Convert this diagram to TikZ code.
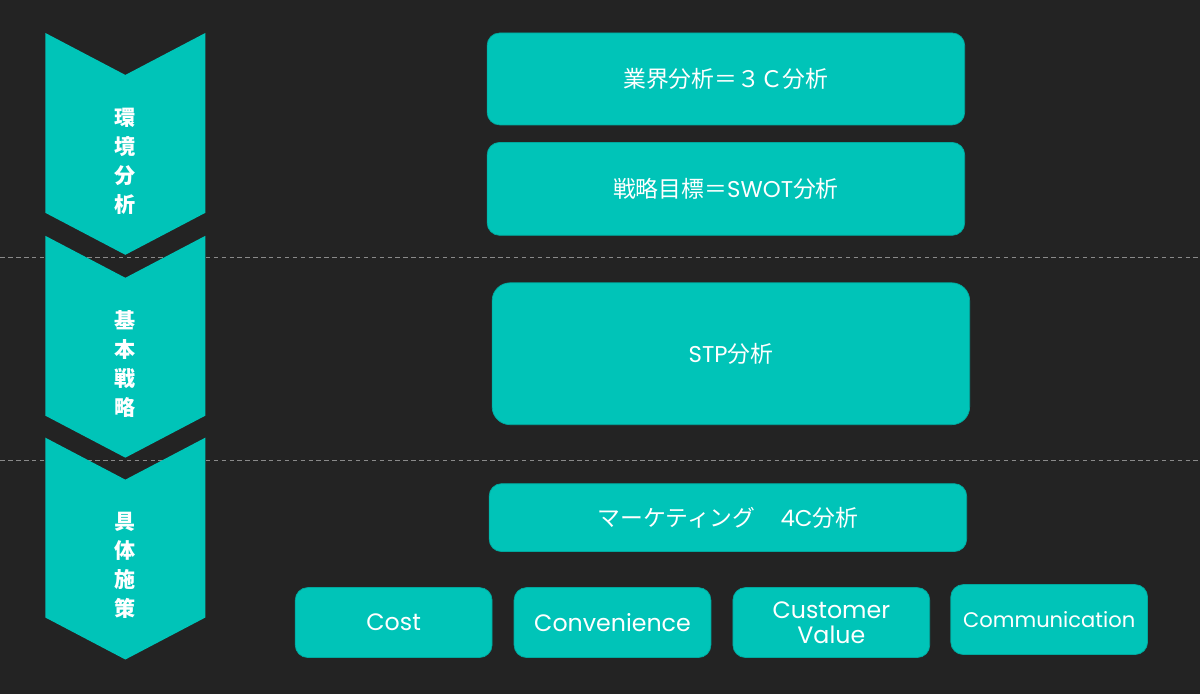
\documentclass[tikz,border=0pt]{standalone}
\usepackage{fontspec}
\setmainfont{Poppins}
\newfontfamily\jp{Noto Sans CJK JP}
\definecolor{bgdark}{HTML}{232323}
\definecolor{tealbox}{HTML}{00C4B8}
\definecolor{tealedge}{HTML}{00A89E}
\definecolor{dashgray}{HTML}{8A8A8A}

\begin{document}
\begin{tikzpicture}[x=0.02cm, y=-0.02cm]
  \tikzset{
    chevron/.style={fill=tealbox},
    stage/.style={text=white, font=\jp\bfseries\fontsize{12}{16.5}\selectfont, align=center},
    box/.style={fill=tealbox, draw=tealedge, line width=0.4pt, rounded corners=0.25cm,
      text=white, inner sep=0pt, align=center, minimum width=9.56cm},
    small/.style={box, minimum width=3.94cm, minimum height=1.4cm,
      font=\fontsize{13.5}{16.5}\selectfont},
    jplabel/.style={font=\fontsize{13}{16}\selectfont},
    sep/.style={draw=dashgray, line width=0.5pt, dash pattern=on 2.5pt off 2pt}
  }
  \fill[bgdark] (0,0) rectangle (1200,694);

  \coordinate (sepAl) at (0,258);
  \coordinate (sepAr) at (1200,258);
  \coordinate (sepBl) at (0,461);
  \coordinate (sepBr) at (1200,461);
  \draw[sep] (sepAl) -- (sepAr);
  \draw[sep] (sepBl) -- (sepBr);

  \foreach \top/\name/\txt in {33/kankyo/環\\境\\分\\析,
                               236/kihon/基\\本\\戦\\略,
                               438/gutai/具\\体\\施\\策} {
    \fill[chevron] (45,\top) -- (125,\top+42) -- (205,\top) -- (205,\top+180)
      -- (125,\top+222) -- (45,\top+180) -- cycle;
    \node[stage] (\name) at (125,\top+128) {\txt};
  }

  \node[box, jplabel, minimum height=1.84cm] (gyokai) at (726,79)
    {{\jp 業界分析＝３Ｃ分析}};
  \node[box, jplabel, minimum height=1.86cm] (swot) at (726,189)
    {{\jp 戦略目標＝}SWOT{\jp 分析}};
  \node[box, jplabel, minimum height=2.84cm, rounded corners=0.36cm] (stp) at (731,354)
    {STP{\jp 分析}};
  \node[box, jplabel, minimum height=1.36cm] (marketing) at (728,518)
    {{\jp マーケティング}\hspace{1.1em}4C{\jp 分析}};

  \node[small] (cost) at (393.5,623) {Cost};
  \node[small] (convenience) at (612.5,623) {Convenience};
  \node[small] (value) at (831.5,623) {Customer\\[-2pt]Value};
  \node[small, font=\fontsize{12}{15}\selectfont] (communication) at (1049.5,620) {Communication};
\end{tikzpicture}
\end{document}
